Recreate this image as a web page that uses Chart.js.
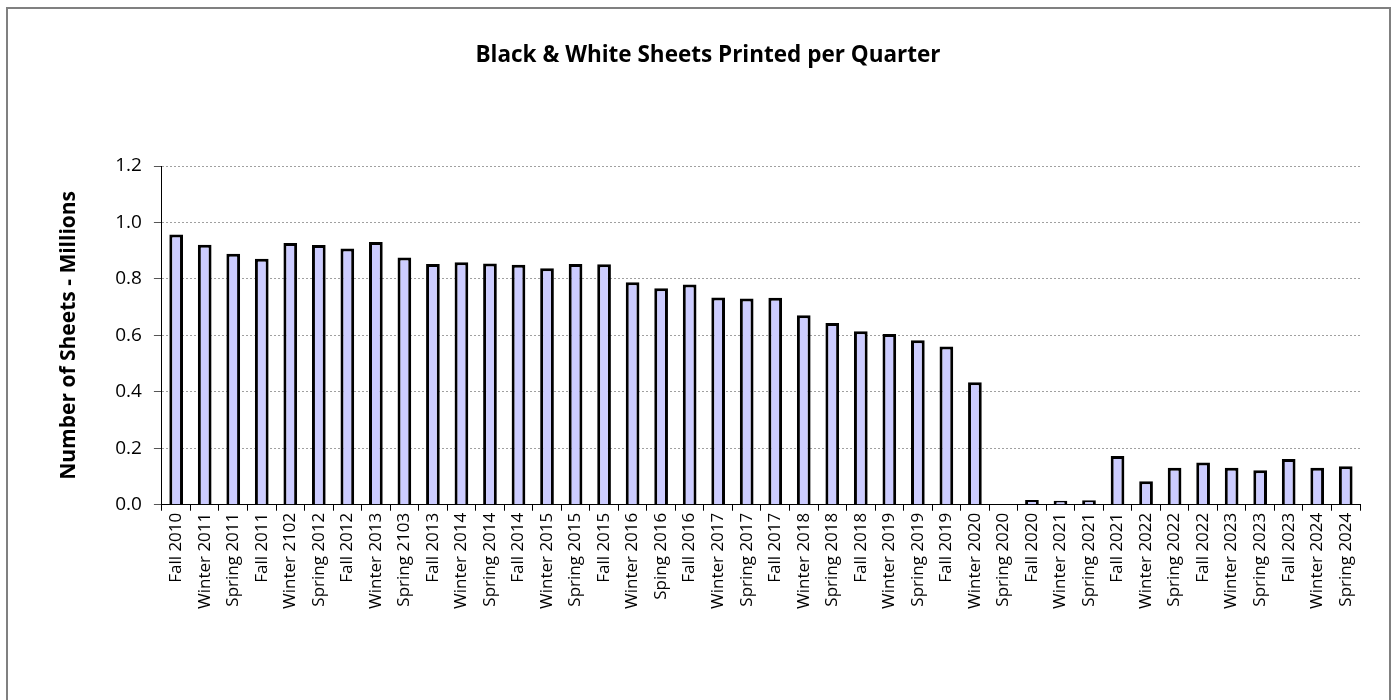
<!DOCTYPE html>
<html>
<head>
<meta charset="utf-8">
<script src="https://cdn.jsdelivr.net/npm/chart.js@4.4.1/dist/chart.umd.min.js"></script>
<style>
  html, body { margin: 0; padding: 0; background: #fff; }
  canvas { display: block; }
</style>
</head>
<body>
<canvas id="sheetsChart" width="1395" height="700"></canvas>
<script>
// Data ------------------------------------------------------------

// quarter names, typos kept as they appear on the original chart
const quarters = [
  'Fall 2010', 'Winter 2011', 'Spring 2011', 'Fall 2011',
  'Winter 2102', 'Spring 2012', 'Fall 2012',
  'Winter 2013', 'Spring 2103', 'Fall 2013',
  'Winter 2014', 'Spring 2014', 'Fall 2014',
  'Winter 2015', 'Spring 2015', 'Fall 2015',
  'Winter 2016', 'Sping 2016', 'Fall 2016',
  'Winter 2017', 'Spring 2017', 'Fall 2017',
  'Winter 2018', 'Spring 2018', 'Fall 2018',
  'Winter 2019', 'Spring 2019', 'Fall 2019',
  'Winter 2020', 'Spring 2020', 'Fall 2020',
  'Winter 2021', 'Spring 2021', 'Fall 2021',
  'Winter 2022', 'Spring 2022', 'Fall 2022',
  'Winter 2023', 'Spring 2023', 'Fall 2023',
  'Winter 2024', 'Spring 2024'
];

// black & white sheets, millions
const sheetsMillions = [
  0.957, 0.921, 0.889, 0.871,
  0.927, 0.920, 0.908,
  0.931, 0.876, 0.853,
  0.859, 0.855, 0.850,
  0.838, 0.853, 0.852,
  0.788, 0.767, 0.780,
  0.734, 0.731, 0.733,
  0.671, 0.644, 0.615,
  0.605, 0.583, 0.561,
  0.434, 0, 0.017,
  0.014, 0.016, 0.173,
  0.083, 0.131, 0.150,
  0.131, 0.122, 0.162,
  0.131, 0.136
];

const yMin = 0;
const yMax = 1.2;
const yStep = 0.2;

// Plugins ---------------------------------------------------------

// grey frame round the whole chart
const frame = {
  id: 'frame',
  beforeDraw(chart) {
    const ctx = chart.ctx;
    ctx.save();
    ctx.strokeStyle = '#808080';
    ctx.lineWidth = 2;
    ctx.strokeRect(7, 8, 1383, 720);
    ctx.restore();
  }
};

// Chart -----------------------------------------------------------

const data = {
  labels: quarters,
  datasets: [{
    label: 'Sheets (millions)',
    data: sheetsMillions,
    backgroundColor: '#ccccff',
    borderColor: '#000000',
    borderWidth: 3,
    barPercentage: 0.48,
    categoryPercentage: 1
  }]
};

const config = {
  type: 'bar',
  data,
  options: {
    responsive: false,
    animation: false,
    layout: {
      padding: { top: 42, left: 56, right: 35, bottom: 89 }
    },
    plugins: {
      legend: { display: false },
      tooltip: { enabled: false },
      title: {
        display: true,
        text: 'Black & White Sheets Printed per Quarter',
        color: '#000',
        font: { family: 'Open Sans', size: 22.5, weight: 'bold' },
        padding: { top: 0, bottom: 97 }
      }
    },
    scales: {
      x: {
        grid: {
          offset: true,
          drawOnChartArea: false,
          tickColor: '#000',
          tickLength: 6
        },
        border: { color: '#000', width: 1 },
        ticks: {
          color: '#000',
          font: { family: 'Open Sans', size: 17 },
          minRotation: 90,
          maxRotation: 90,
          autoSkip: false,
          padding: 2
        }
      },
      y: {
        min: yMin,
        max: yMax,
        grid: {
          color: '#a0a0a0',
          tickColor: '#555',
          tickBorderDash: [],
          tickLength: 8
        },
        border: { color: '#000', width: 1, dash: [2, 2] },
        ticks: {
          stepSize: yStep,
          color: '#000',
          padding: 12,
          font: { family: 'Open Sans', size: 19 },
          callback: (value) => value.toFixed(1)
        },
        title: {
          display: true,
          text: 'Number of Sheets - Millions',
          color: '#000',
          font: { family: 'Open Sans', size: 21, weight: 'bold' },
          padding: { top: 0, bottom: 22 }
        }
      }
    }
  },
  plugins: [frame]
};

const sheetsChart = new Chart(
  document.getElementById('sheetsChart'),
  config
);
</script>
</body>
</html>
